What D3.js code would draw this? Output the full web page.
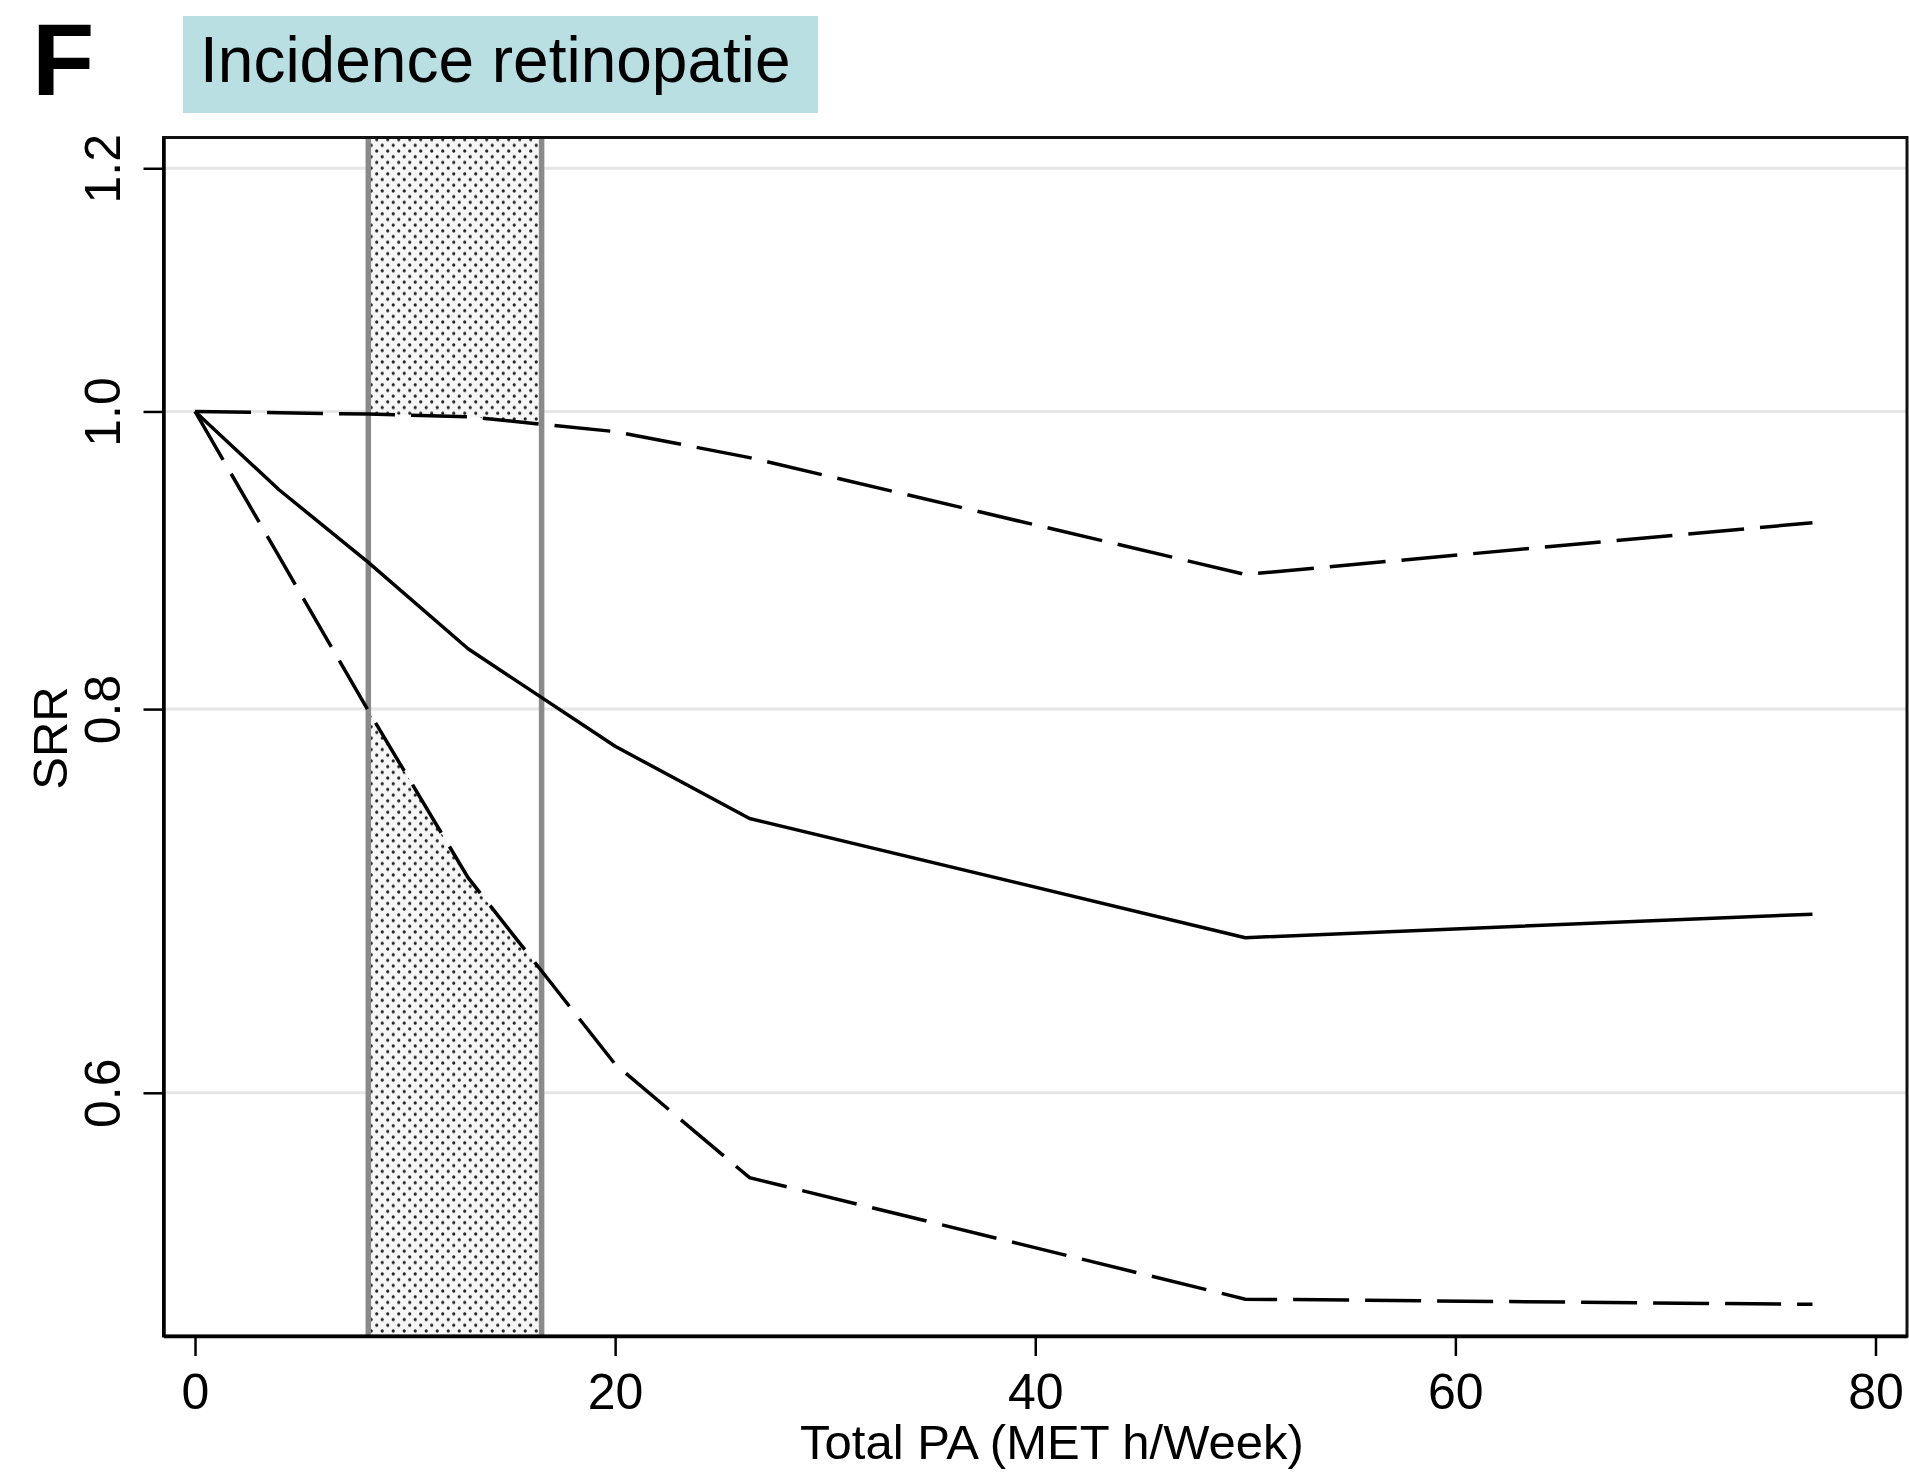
<!DOCTYPE html>
<html>
<head>
<meta charset="utf-8">
<script src="https://cdn.jsdelivr.net/npm/d3@7"></script>
<style>
  body { margin: 0; background: #fff; }
  svg { display: block; font-family: "Liberation Sans", Arial, Helvetica, sans-serif; }
</style>
</head>
<body>
<script>
// data (MET h/week vs summary relative risk)
const paLevels = [0, 4, 8.25, 13, 20, 26.4, 50, 77];
const srr      = [1, 0.943, 0.893, 0.837, 0.778, 0.737, 0.674, 0.686];
const ciUpper  = [1, 0.999, 0.998, 0.996, 0.985, 0.966, 0.885, 0.920];
const ciLower  = [1, 0.897, 0.799, 0.705, 0.613, 0.563, 0.514, 0.512];
const band     = [8.25, 16.5];           // shaded range
const xTicks   = [0, 20, 40, 60, 80];
const yTicks   = [0.6, 0.8, 1.0, 1.2];

const W = 1909, H = 1478;
const plotL = 163.5, plotR = 1907, plotT = 137.5, plotB = 1336;

const svg = d3.select("body").append("svg").attr("width", W).attr("height", H);

const x = d3.scaleLinear().domain([-1.5, 81.5]).range([plotL, plotR]);
const y = d3.scaleLog().domain([0.5, 1.228]).range([plotB, plotT]);

const rows = paLevels.map((p, i) => ({ p, est: srr[i], hi: ciUpper[i], lo: ciLower[i] }));

// stipple pattern
const defs = svg.append("defs");
const pat = defs.append("pattern").attr("id", "stipple")
  .attr("patternUnits", "userSpaceOnUse").attr("width", 11).attr("height", 11.4);
pat.append("rect").attr("width", 11).attr("height", 11.4).attr("fill", "#f6f6f6");
pat.append("circle").attr("cx", 2.75).attr("cy", 2.85).attr("r", 1.6).attr("fill", "#222");
pat.append("circle").attr("cx", 8.25).attr("cy", 8.55).attr("r", 1.6).attr("fill", "#222");

defs.append("clipPath").attr("id", "bandClip").append("rect")
  .attr("x", x(band[0])).attr("y", plotT)
  .attr("width", x(band[1]) - x(band[0])).attr("height", plotB - plotT);

// gridlines
svg.append("g").selectAll("line").data(yTicks).join("line")
  .attr("x1", plotL).attr("x2", plotR)
  .attr("y1", d => y(d)).attr("y2", d => y(d))
  .attr("stroke", "#e6e6e6").attr("stroke-width", 3);

// stippled band, outside the confidence interval
const bandG = svg.append("g").attr("clip-path", "url(#bandClip)");
bandG.append("path").datum(rows)
  .attr("d", d3.area().x(d => x(d.p)).y0(plotT).y1(d => y(d.hi)))
  .attr("fill", "url(#stipple)");
bandG.append("path").datum(rows)
  .attr("d", d3.area().x(d => x(d.p)).y0(plotB).y1(d => y(d.lo)))
  .attr("fill", "url(#stipple)");

svg.append("g").selectAll("line").data(band).join("line")
  .attr("x1", d => x(d)).attr("x2", d => x(d))
  .attr("y1", plotT).attr("y2", plotB)
  .attr("stroke", "#8a8a8a").attr("stroke-width", 5.5);

// curves
const line = key => d3.line().x(d => x(d.p)).y(d => y(d[key]));
svg.append("path").datum(rows).attr("d", line("hi"))
  .attr("fill", "none").attr("stroke", "#000").attr("stroke-width", 3.5)
  .attr("stroke-dasharray", "56 16");
svg.append("path").datum(rows).attr("d", line("lo"))
  .attr("fill", "none").attr("stroke", "#000").attr("stroke-width", 3.5)
  .attr("stroke-dasharray", "56 16");
svg.append("path").datum(rows).attr("d", line("est"))
  .attr("fill", "none").attr("stroke", "#000").attr("stroke-width", 3.5)
  .attr("stroke-linejoin", "round");

// frame
svg.append("rect").attr("x", plotL).attr("y", plotT)
  .attr("width", plotR - plotL).attr("height", plotB - plotT)
  .attr("fill", "none").attr("stroke", "#111").attr("stroke-width", 3);

// axes
const xAxis = svg.append("g").attr("transform", `translate(0,${plotB})`)
  .call(d3.axisBottom(x).tickValues(xTicks).tickSize(20).tickSizeOuter(0).tickPadding(16));
xAxis.select(".domain").attr("stroke-width", 3.5);
xAxis.selectAll(".tick line").attr("stroke-width", 2.5);
xAxis.selectAll(".tick text").attr("font-size", 50).attr("fill", "#000")
  .attr("dy", 0).attr("y", 73);

const yAxis = svg.append("g").attr("transform", `translate(${plotL},0)`)
  .call(d3.axisLeft(y).tickValues(yTicks).tickFormat(d3.format(".1f")).tickSize(20).tickSizeOuter(0));
yAxis.select(".domain").attr("stroke-width", 3.5);
yAxis.selectAll(".tick line").attr("stroke-width", 2.5);
yAxis.selectAll(".tick text").attr("font-size", 50).attr("fill", "#000")
  .attr("transform", "rotate(-90)").attr("x", 0).attr("y", -43.5).attr("dy", 0)
  .attr("text-anchor", "middle");

// axis titles
svg.append("text").attr("x", 1052).attr("y", 1459).attr("text-anchor", "middle")
  .attr("font-size", 49).text("Total PA (MET h/Week)");
svg.append("text").attr("transform", "translate(67,738) rotate(-90)")
  .attr("text-anchor", "middle").attr("font-size", 49).text("SRR");

// panel letter and title box
svg.append("text").attr("x", 32).attr("y", 95).attr("font-size", 102)
  .attr("font-weight", "bold").text("F");
svg.append("rect").attr("x", 183).attr("y", 16).attr("width", 635).attr("height", 97)
  .attr("fill", "#b9dfe2");
svg.append("text").attr("x", 200).attr("y", 82).attr("font-size", 64)
  .text("Incidence retinopatie");
</script>
</body>
</html>
